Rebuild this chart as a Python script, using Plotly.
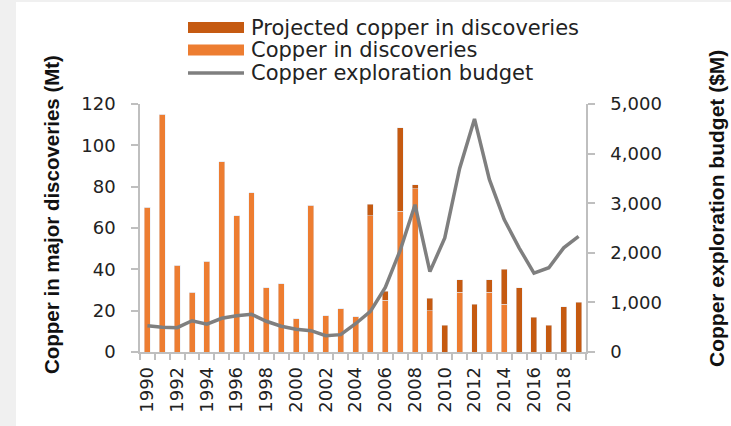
import plotly.graph_objects as go

years = list(range(1990, 2020))
copper = [70, 115, 42, 29, 44, 92, 66, 77, 31, 33, 16, 71, 17.5, 21, 17,
          66, 25, 68, 79, 20, 0, 29, 0, 29, 23, 0, 0, 0, 0, 0]
projected = [0, 0, 0, 0, 0, 0, 0, 0, 0, 0, 0, 0, 0, 0, 0,
             5.5, 4.5, 40.5, 2, 6, 13, 6, 23, 6, 17, 31, 16.7, 13, 22, 24]
budget = [530, 500, 490, 630, 560, 680, 730, 760, 620, 520, 460, 430, 330, 350, 570,
          820, 1300, 2050, 2970, 1620, 2300, 3700, 4700, 3480, 2670, 2100, 1590, 1700, 2100, 2330]
x_labels = [str(y) for y in range(1990, 2020, 2)]

ORANGE = "#ED7D31"
DARK = "#C55A11"
GRAY = "#7F7F7F"
AXIS = "#BFBFBF"
TXT = "#222222"
TICKFONT = dict(family="DejaVu Sans", size=18, color=TXT)

fig = go.Figure()
fig.add_bar(x=years, y=copper, name="Copper in discoveries", marker_color=ORANGE,
            width=0.4, showlegend=False)
fig.add_bar(x=years, y=projected, name="Projected copper in discoveries", marker_color=DARK,
            width=0.4, showlegend=False)
fig.add_scatter(x=years, y=budget, name="Copper exploration budget", yaxis="y2",
                mode="lines", line=dict(color=GRAY, width=3.5), showlegend=False)

L, R, T, B = 140, 145, 104, 74
W, H = 731, 426
pw, ph = W - L - R, H - T - B


def px(x):
    return (x - L) / pw


def py(y):
    return (H - B - y) / ph


shapes = [
    dict(type="rect", xref="paper", yref="paper", x0=px(0), x1=px(16), y0=py(H), y1=py(0),
         fillcolor="#F0F0F0", line_width=0, layer="below"),
    dict(type="rect", xref="paper", yref="paper", x0=px(16), x1=px(W), y0=py(2), y1=py(0),
         fillcolor="#F0F0F0", line_width=0, layer="below"),
]
annotations = []
legend_items = [
    ("Projected copper in discoveries", "bar", DARK, 27.5),
    ("Copper in discoveries", "bar", ORANGE, 50),
    ("Copper exploration budget", "line", GRAY, 73),
]
for text, kind, col, yc in legend_items:
    if kind == "bar":
        shapes.append(dict(type="rect", xref="paper", yref="paper", x0=px(188), x1=px(244),
                           y0=py(yc + 5.5), y1=py(yc - 5.5), fillcolor=col, line_width=0))
    else:
        shapes.append(dict(type="line", xref="paper", yref="paper", x0=px(188), x1=px(244),
                           y0=py(yc), y1=py(yc), line=dict(color=col, width=3.5)))
    annotations.append(dict(text=text, xref="paper", yref="paper", x=px(249), y=py(yc),
                            xanchor="left", yanchor="middle", showarrow=False,
                            font=dict(family="DejaVu Sans", size=21, color=TXT)))

annotations.append(dict(text="<b>Copper in major discoveries (Mt)</b>", textangle=-90,
                        xref="paper", yref="paper", x=px(51), y=py(215),
                        xanchor="center", yanchor="middle", showarrow=False,
                        font=dict(family="Liberation Sans", size=20.5, color="#111111")))
annotations.append(dict(text="<b>Copper exploration budget ($M)</b>", textangle=-90,
                        xref="paper", yref="paper", x=px(716), y=py(209),
                        xanchor="center", yanchor="middle", showarrow=False,
                        font=dict(family="Liberation Sans", size=21, color="#111111")))

fig.update_layout(
    width=W, height=H,
    margin=dict(l=L, r=R, t=T, b=B),
    paper_bgcolor="white", plot_bgcolor="white",
    barmode="stack",
    showlegend=False,
    shapes=shapes,
    annotations=annotations,
    xaxis=dict(
        range=[1989.5, 2019.5],
        tickvals=list(range(1990, 2020, 2)), ticktext=x_labels,
        tickangle=-90, ticks="", tickfont=TICKFONT, ticklabelstandoff=6,
        showline=True, linecolor=AXIS, linewidth=1.5, showgrid=False, zeroline=False,
        minor=dict(ticks="outside", tick0=1989.5, dtick=1, ticklen=6,
                   tickcolor=AXIS, tickwidth=1.5, showgrid=False),
    ),
    yaxis=dict(
        range=[0, 120], tickvals=[0, 20, 40, 60, 80, 100, 120],
        ticks="outside", ticklen=7, tickcolor=AXIS, tickwidth=1.5,
        showline=True, linecolor=AXIS, linewidth=1.5, showgrid=False, zeroline=False,
        tickfont=TICKFONT, ticklabelstandoff=12,
    ),
    yaxis2=dict(
        range=[0, 5000], tickvals=[0, 1000, 2000, 3000, 4000, 5000], tickformat=",d",
        overlaying="y", side="right",
        ticks="outside", ticklen=7, tickcolor=AXIS, tickwidth=1.5,
        showline=True, linecolor=AXIS, linewidth=1.5, showgrid=False, zeroline=False,
        tickfont=TICKFONT, ticklabelstandoff=12,
    ),
)

fig.write_html("out.html", config={"displayModeBar": False},
               post_script="document.body.style.margin='0';document.body.style.padding='0';")
